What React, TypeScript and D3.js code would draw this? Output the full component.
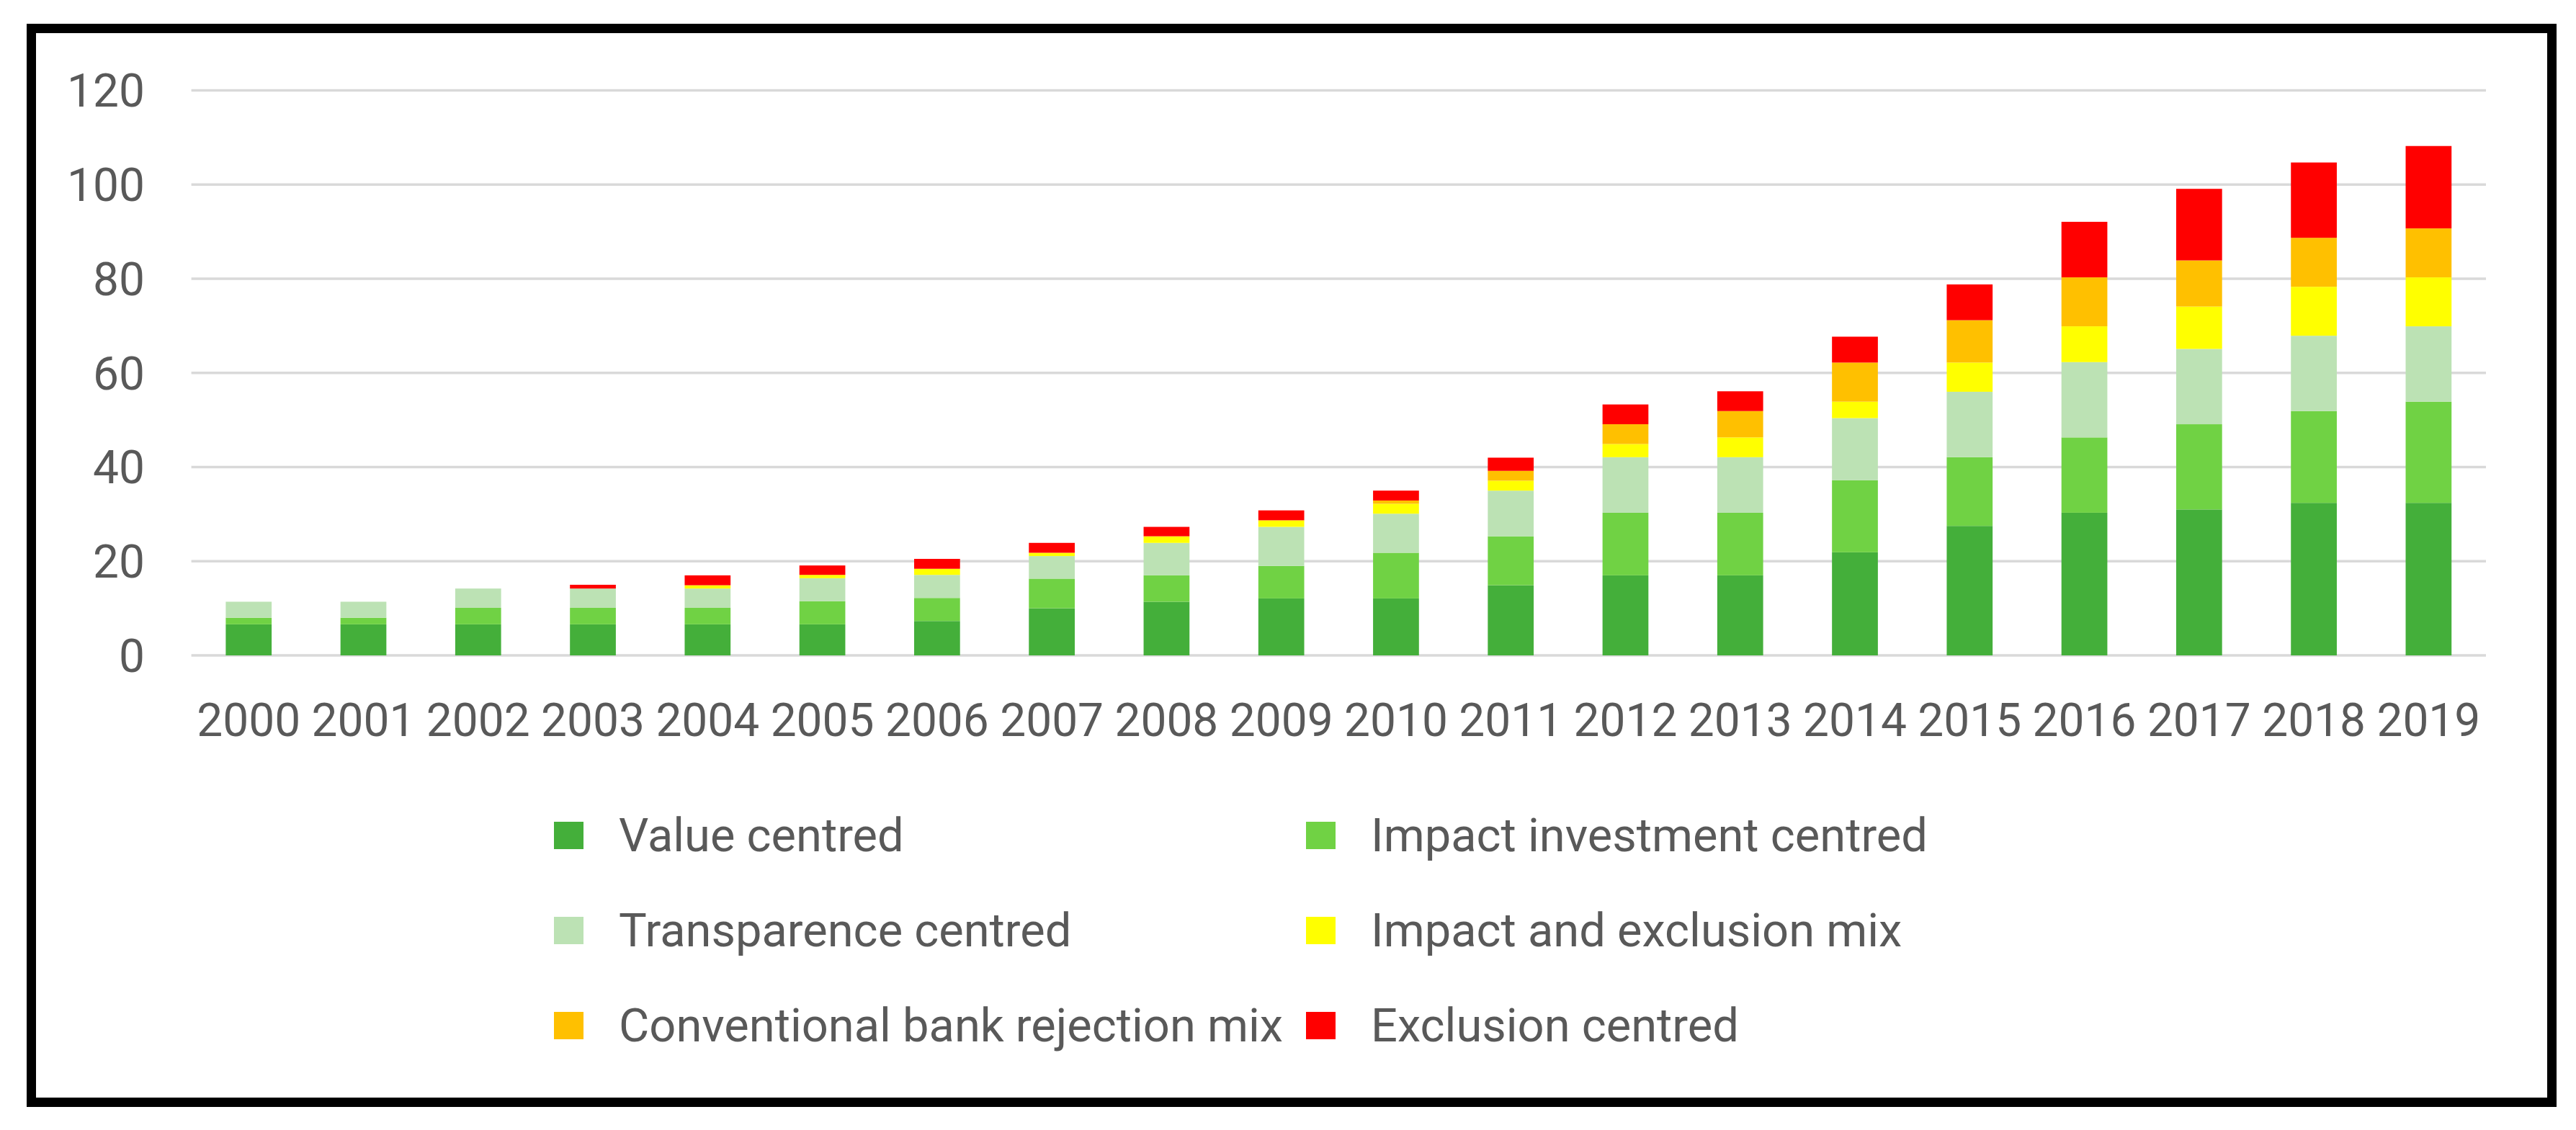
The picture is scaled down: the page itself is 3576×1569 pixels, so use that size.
import React from 'react';
import * as d3 from 'd3';

const years = ['2000','2001','2002','2003','2004','2005','2006','2007','2008','2009','2010','2011','2012','2013','2014','2015','2016','2017','2018','2019'];

const seriesNames = [
  'Value centred',
  'Impact investment centred',
  'Transparence centred',
  'Impact and exclusion mix',
  'Conventional bank rejection mix',
  'Exclusion centred',
];

const seriesColors = ['#44AF3A', '#70D244', '#BCE2B4', '#FFFF00', '#FFC000', '#FF0000'];

const valueCentred = [6.6, 6.6, 6.6, 6.6, 6.6, 6.6, 7.3, 10.0, 11.4, 12.1, 12.1, 14.9, 17.0, 17.0, 21.9, 27.5, 30.3, 31.0, 32.4, 32.4];
const impactInvestment = [1.4, 1.4, 3.5, 3.5, 3.5, 4.9, 4.9, 6.3, 5.6, 6.9, 9.7, 10.4, 13.3, 13.3, 15.3, 14.6, 16.0, 18.1, 19.5, 21.5];
const transparence = [3.4, 3.4, 4.1, 4.1, 4.1, 4.9, 4.9, 4.8, 6.9, 8.3, 8.3, 9.7, 11.8, 11.8, 13.2, 13.9, 16.0, 16.0, 16.0, 16.0];
const impactExclusion = [0, 0, 0, 0, 0.7, 0.7, 1.3, 0.7, 1.4, 1.4, 2.1, 2.1, 2.8, 4.2, 3.5, 6.2, 7.6, 9.0, 10.4, 10.4];
const bankRejection = [0, 0, 0, 0, 0, 0, 0, 0, 0, 0, 0.7, 2.1, 4.2, 5.6, 8.3, 9.0, 10.4, 9.8, 10.4, 10.4];
const exclusion = [0, 0, 0, 0.8, 2.1, 2.0, 2.1, 2.1, 2.0, 2.1, 2.1, 2.8, 4.2, 4.2, 5.5, 7.6, 11.8, 15.2, 16.0, 17.5];

const yTicks = [0, 20, 40, 60, 80, 100, 120];

const W = 3576;
const H = 1569;
const FONT = 'Roboto, "Open Sans", sans-serif';
const TEXT = '#595959';

export default function App() {
  const seriesData = [valueCentred, impactInvestment, transparence, impactExclusion, bankRejection, exclusion];
  const rows = years.map((yr, i) => {
    const r: any = { year: yr };
    seriesNames.forEach((n, k) => { r[n] = seriesData[k][i]; });
    return r;
  });
  const stacked = d3.stack<any>().keys(seriesNames)(rows);

  const x = d3.scaleBand<string>().domain(years).range([265.6, 3451]).paddingInner(0.6).paddingOuter(0.3);
  const y = d3.scaleLinear().domain([0, 120]).range([910, 125.6]);

  const legendCols = [769, 1813];
  const legendTextOffset = 90;
  const legendBaselines = [1182, 1314, 1446];

  return (
    <svg width={W} height={H} style={{ position: 'absolute', left: 0, top: 0, background: '#fff' }} xmlns="http://www.w3.org/2000/svg">
      <rect x={0} y={0} width={W} height={H} fill="#ffffff" />
      {/* gridlines */}
      {yTicks.map((t) => (
        <line key={'g' + t} x1={265.6} x2={3451} y1={y(t)} y2={y(t)} stroke="#D9D9D9" strokeWidth={3.5} />
      ))}
      {/* bars */}
      {stacked.map((s, k) => (
        <g key={s.key} fill={seriesColors[k]}>
          {s.map((d: any, i: number) => {
            const h = y(d[0]) - y(d[1]);
            if (h <= 0) return null;
            return <rect key={i} x={x(years[i])} y={y(d[1])} width={x.bandwidth()} height={h} />;
          })}
        </g>
      ))}
      {/* y tick labels */}
      {yTicks.map((t) => (
        <text key={'yl' + t} x={201} y={y(t)} dy="0.355em" textAnchor="end" fontFamily={FONT} fontSize={64} fill={TEXT}>
          {t}
        </text>
      ))}
      {/* x tick labels */}
      {years.map((yr) => (
        <text key={'xl' + yr} x={(x(yr) as number) + x.bandwidth() / 2} y={1022} textAnchor="middle" fontFamily={FONT} fontSize={64} fill={TEXT}>
          {yr}
        </text>
      ))}
      {/* legend */}
      {seriesNames.map((n, k) => {
        const col = k % 2;
        const row = Math.floor(k / 2);
        const lx = legendCols[col];
        const by = legendBaselines[row];
        return (
          <g key={'lg' + n}>
            <rect x={lx} y={by - 41} width={41} height={38} fill={seriesColors[k]} />
            <text x={lx + legendTextOffset} y={by} fontFamily={FONT} fontSize={65} fill={TEXT}>
              {n}
            </text>
          </g>
        );
      })}
      {/* outer border */}
      <rect x={43.5} y={39.5} width={3499} height={1491} fill="none" stroke="#000" strokeWidth={13} />
    </svg>
  );
}
